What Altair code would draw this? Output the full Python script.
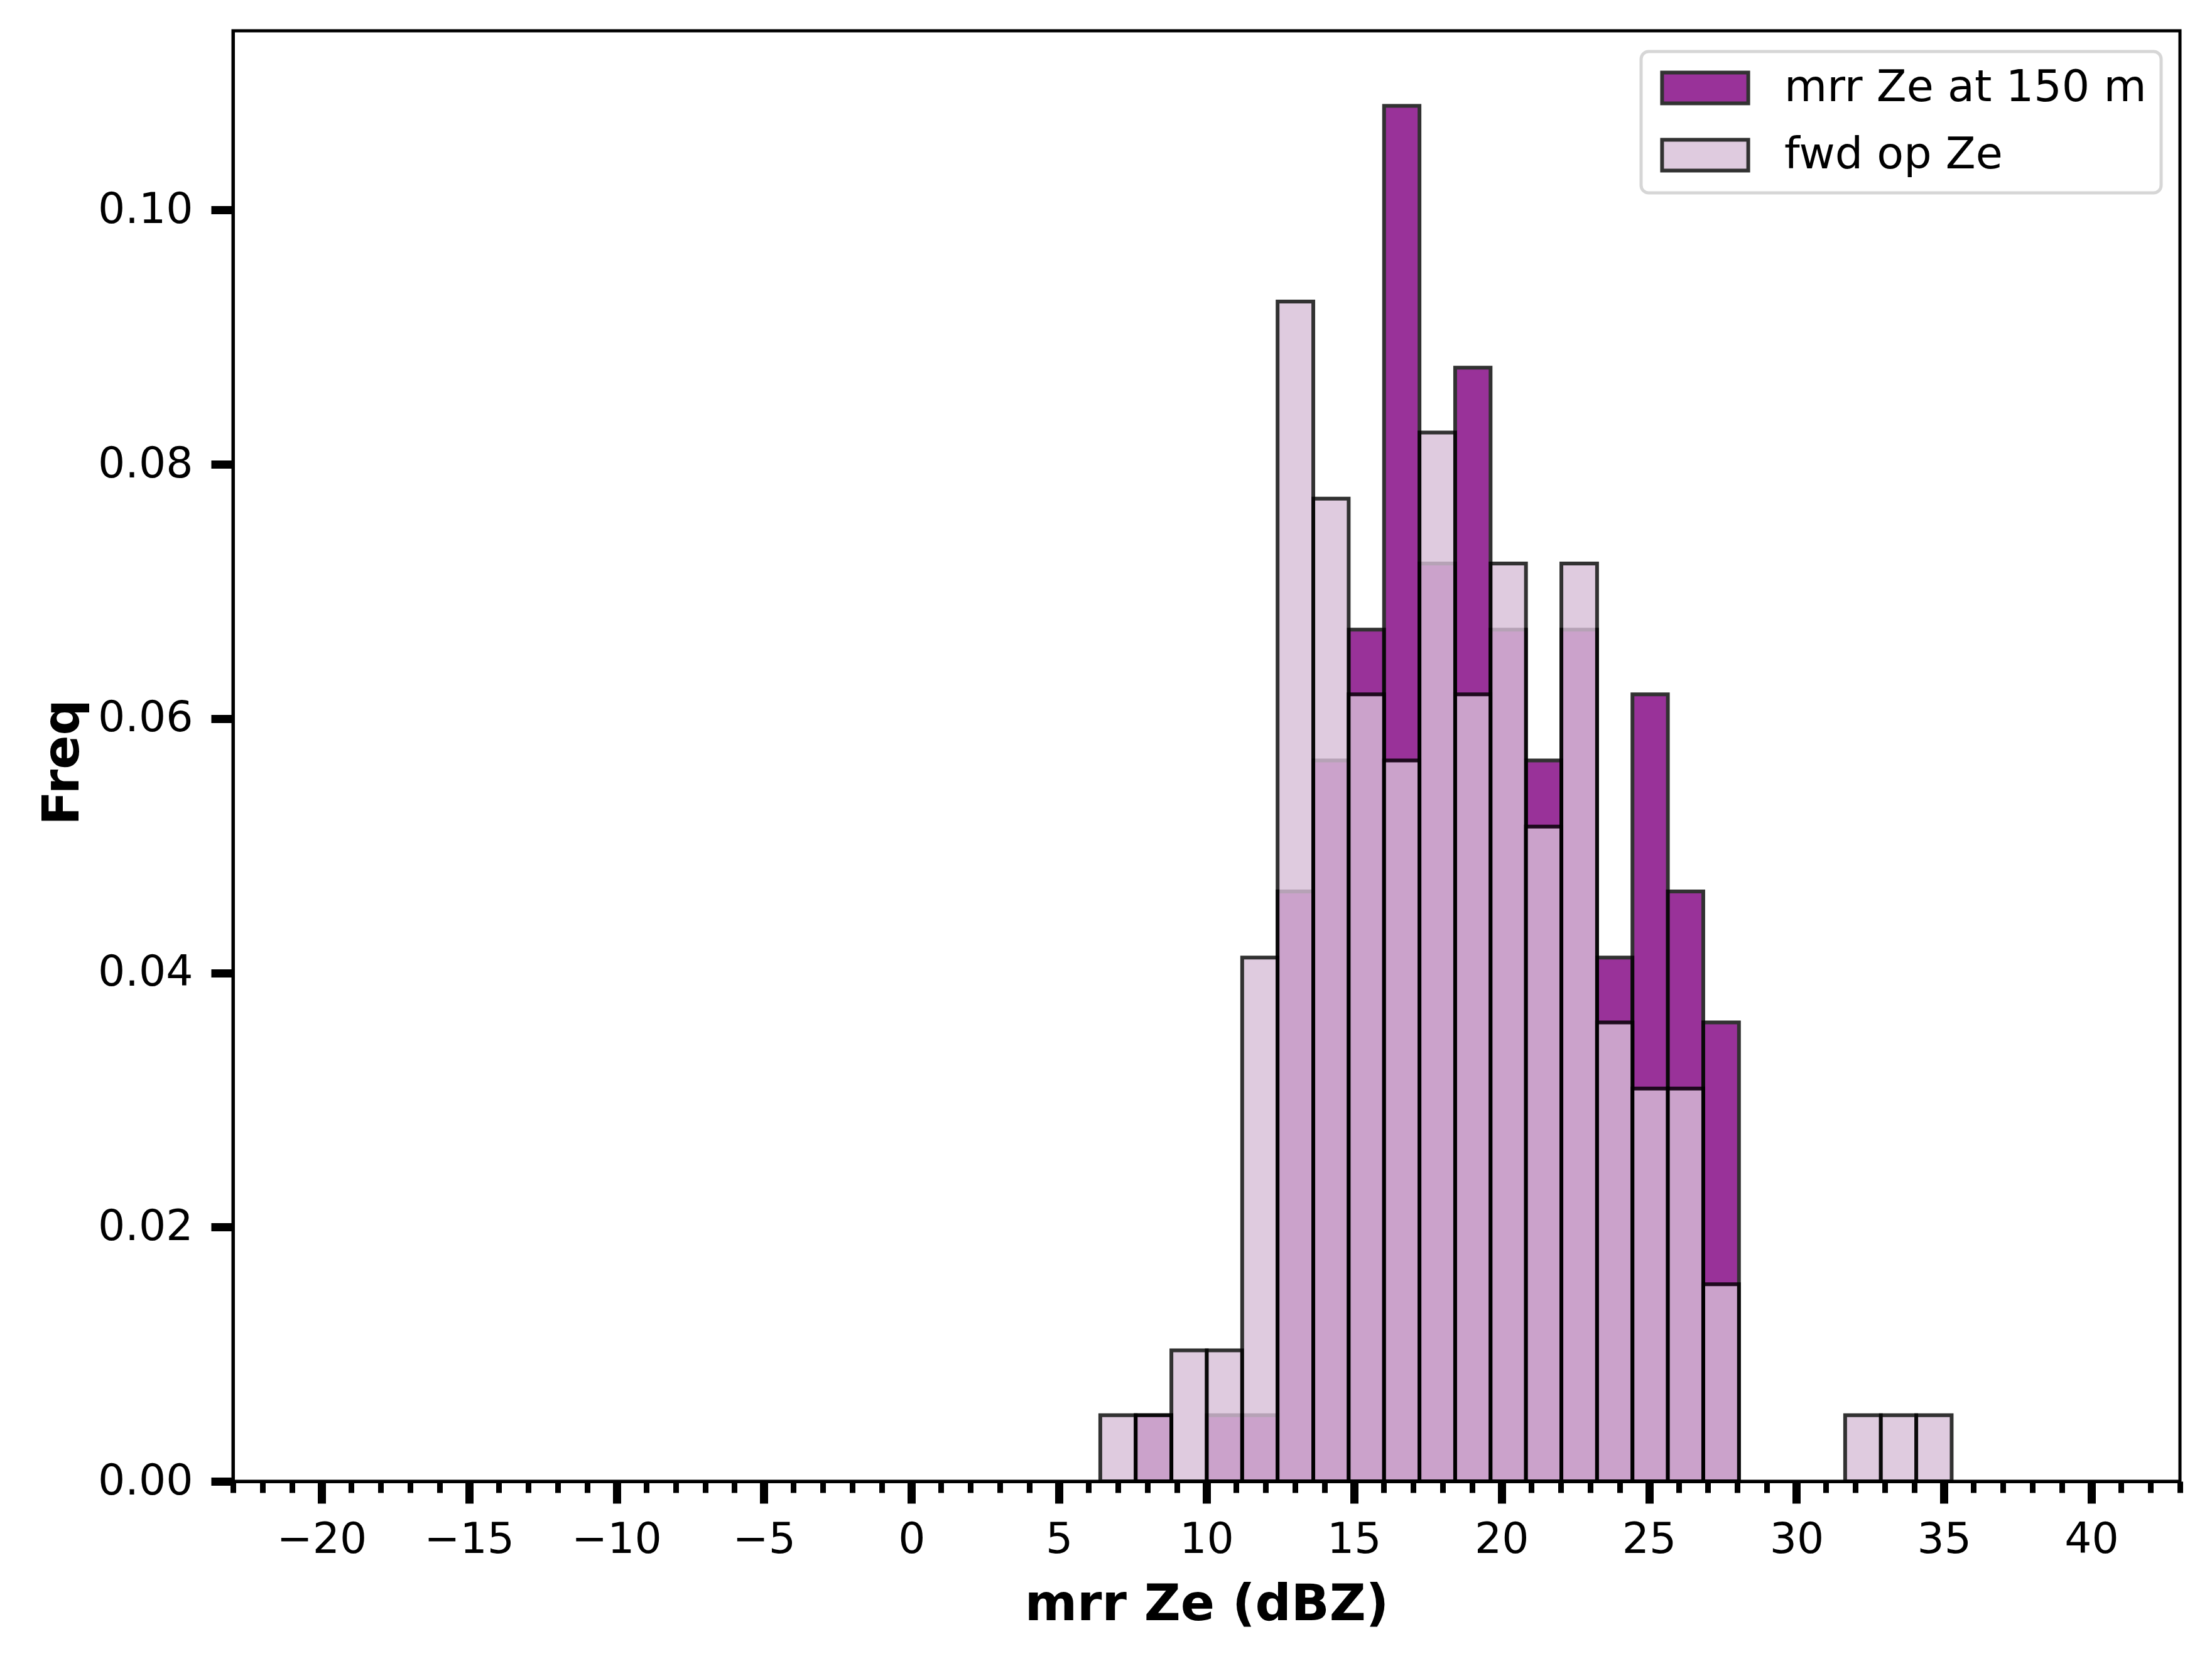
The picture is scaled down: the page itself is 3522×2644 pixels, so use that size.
import altair as alt
import pandas as pd

# ---- data ----
bin_edges = [6.40, 7.60, 8.81, 10.01, 11.21, 12.41, 13.62, 14.82, 16.02, 17.22,
             18.43, 19.63, 20.83, 22.03, 23.24, 24.44, 25.64, 26.84, 28.05, 29.25,
             30.45, 31.65, 32.86, 34.06, 35.26]
mrr_freq = [0.0, 0.0052, 0.0, 0.0052, 0.0052, 0.0464, 0.0567, 0.0670, 0.1082, 0.0722,
            0.0876, 0.0670, 0.0567, 0.0670, 0.0412, 0.0619, 0.0464, 0.0361,
            0.0, 0.0, 0.0, 0.0, 0.0, 0.0]
fwd_freq = [0.0052, 0.0052, 0.0103, 0.0103, 0.0412, 0.0928, 0.0773, 0.0619, 0.0567, 0.0825,
            0.0619, 0.0722, 0.0515, 0.0722, 0.0361, 0.0309, 0.0309, 0.0155,
            0.0, 0.0, 0.0, 0.0052, 0.0052, 0.0052]
series_names = ["mrr Ze at 150 m", "fwd op Ze"]
series_colors = ["#800080", "#d8bfd8"]
x_major_ticks = [-20, -15, -10, -5, 0, 5, 10, 15, 20, 25, 30, 35, 40]
x_minor_ticks = list(range(-23, 44))
y_ticks = [0.0, 0.02, 0.04, 0.06, 0.08, 0.10]
x_domain = [-23, 43]
y_domain = [0, 0.1141]


def frame(vals, name):
    rows = []
    for i, v in enumerate(vals):
        if v > 0:
            rows.append({"x0": bin_edges[i], "x1": bin_edges[i + 1],
                         "base": 0.0, "freq": v, "series": name})
    return pd.DataFrame(rows)


df_mrr = frame(mrr_freq, series_names[0])
df_fwd = frame(fwd_freq, series_names[1])

FONT = "DejaVu Sans"

legend = alt.Legend(
    title=None, orient="none", legendX=2242, legendY=33,
    symbolType="M-2.8,-1H2.8V1H-2.8Z", symbolSize=2401, symbolOffset=44,
    symbolStrokeColor="black", symbolStrokeWidth=6, symbolOpacity=0.8,
    labelFont=FONT, labelFontSize=70, labelColor="black", labelOffset=91,
    labelLimit=2000, rowPadding=33, padding=23,
    strokeColor="#d6d6d6", fillColor="white", cornerRadius=12,
)
color = alt.Color("series:N", scale=alt.Scale(domain=series_names, range=series_colors),
                  legend=legend)

x_major_axis = alt.Axis(
    values=x_major_ticks, format="d", orient="bottom", grid=False,
    tickSize=35, tickWidth=13, tickColor="black",
    domainWidth=5, domainColor="black",
    labelFont=FONT, labelFontSize=68, labelColor="black", labelPadding=24,
    labelFlush=False, labelOverlap=False,
    title="mrr Ze (dBZ)", titleFont=FONT, titleFontSize=80, titleFontWeight="bold",
    titleColor="black", titleBaseline="alphabetic", titleY=220,
)
x_minor_axis = alt.Axis(
    values=x_minor_ticks, orient="bottom", grid=False, labels=False, domain=False,
    tickSize=18, tickWidth=9, tickColor="black", title="",
)
y_axis = alt.Axis(
    values=y_ticks, format=".2f", grid=False,
    tickSize=35, tickWidth=13, tickColor="black",
    domainWidth=5, domainColor="black",
    labelFont=FONT, labelFontSize=68, labelColor="black", labelPadding=29,
    title="Freq", titleFont=FONT, titleFontSize=80, titleFontWeight="bold",
    titleColor="black", titleBaseline="alphabetic", titleX=-247, titleY=1164,
)

xs = alt.Scale(domain=x_domain, nice=False, zero=False)
ys = alt.Scale(domain=y_domain, nice=False)

mrr_layer = alt.Chart(df_mrr).mark_bar(stroke="black", strokeWidth=6, opacity=0.8).encode(
    x=alt.X("x0:Q", scale=xs, axis=x_major_axis),
    x2="x1:Q",
    y=alt.Y("freq:Q", scale=ys, axis=y_axis),
    y2="base:Q",
    color=color,
)
fwd_layer = alt.Chart(df_fwd).mark_bar(stroke="black", strokeWidth=6, opacity=0.8).encode(
    x=alt.X("x0:Q", scale=xs, axis=x_minor_axis),
    x2="x1:Q",
    y=alt.Y("freq:Q", scale=ys, axis=y_axis),
    y2="base:Q",
    color=color,
)

chart = (
    alt.layer(mrr_layer, fwd_layer)
    .resolve_axis(x="independent")
    .properties(
        width=3100, height=2309,
        autosize=alt.AutoSizeParams(type="none"),
        padding={"left": 363, "top": 41, "right": 40, "bottom": 270},
        background="white",
    )
    .configure_view(stroke="black", strokeWidth=5)
    .configure_legend(strokeWidth=5)
)

chart.save("out.html", embed_options={"renderer": "svg", "actions": False})
